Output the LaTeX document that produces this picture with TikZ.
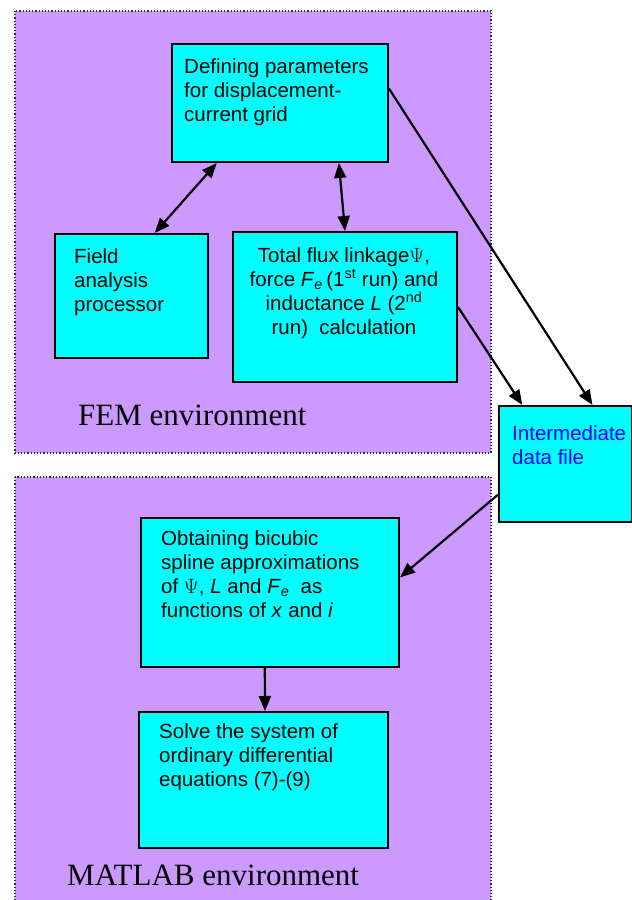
\documentclass[tikz,border=0pt]{standalone}
\usepackage{fontspec}
\setmainfont{Liberation Sans}
\newfontfamily\envfont{Liberation Serif}
\usetikzlibrary{arrows.meta,calc,positioning}
\definecolor{envcolor}{RGB}{204,153,255}
\definecolor{boxcolor}{RGB}{0,255,255}
\definecolor{filecolor}{RGB}{0,0,255}

\begin{document}
\begin{tikzpicture}[%
    x=1pt, y=-1pt,                        % pixel-like units, top-down
    >={Triangle[length=15pt,width=12pt]}, % filled arrow heads
    every node/.style={inner sep=0pt},
    ]
\tikzset{
  env/.style={draw=black!80, dotted, line width=1.2pt, fill=envcolor},
  box/.style={draw, line width=2pt, fill=boxcolor, anchor=north west},
  txt/.style={anchor=north west, align=left, font=\fontsize{20.5}{24}\selectfont},
  envtxt/.style={anchor=base west, font=\envfont\fontsize{31}{36}\selectfont},
  link/.style={line width=2.2pt},
}
\useasboundingbox (0,0) rectangle (632,900);

% environments
\draw[env] (15,11) rectangle (491,453);
\draw[env] (15,477) rectangle (491,910);
\node[envtxt] (femlbl) at (78,425) {FEM environment};
\node[envtxt] (matlbl) at (67,885) {MATLAB environment};

% boxes
\node[box, minimum width=216pt, minimum height=118pt] (def) at (171,43) {};
\node[box, minimum width=153pt, minimum height=124pt] (field) at (54,233) {};
\node[box, minimum width=224pt, minimum height=150pt] (flux) at (232,231) {};
\node[box, minimum width=133pt, minimum height=116pt] (inter) at (498,405) {};
\node[box, minimum width=258pt, minimum height=149pt] (obt) at (140,517) {};
\node[box, minimum width=249pt, minimum height=136pt] (solve) at (138,711) {};

% texts
\node[txt] (deftxt) at (184,58) {Defining parameters\\for displacement-\\current grid};
\node[txt] (fieldtxt) at (74,248) {Field\\analysis\\processor};
\node[txt, anchor=north, align=center] (fluxtxt) at (344,247)
  {Total flux linkage$\Psi$,\\force \textit{F}\textsubscript{\textit{e}}\,(1\textsuperscript{st} run) and\\inductance \textit{L} (2\textsuperscript{nd}\\run)\ \ calculation};
\node[txt, text=filecolor] (intertxt) at (512,425) {Intermediate\\data file};
\node[txt] (obttxt) at (161,530)
  {Obtaining bicubic\\spline approximations\\of $\Psi$, \textit{L} and \textit{F}\textsubscript{\textit{e}}\ \ as\\functions of \textit{x} and \textit{i}};
\node[txt] (solvetxt) at (159,723) {Solve the system of\\ordinary differential\\equations (7)-(9)};

%connect
\draw[link,<->] ($(def.south west)!.21!(def.south east)$) -- ($(field.north west)!.65!(field.north east)$);
\draw[link,<->] ($(def.south west)!.77!(def.south east)$) -- (flux.north);
\draw[link,->] ($(def.north east)!.38!(def.south east)$) -- ($(inter.north west)!.7!(inter.north east)$);
\draw[link,->] (flux.east) -- ($(inter.north west)!.18!(inter.north east)$);
\draw[link,->] ($(inter.north west)!.76!(inter.south west)$) -- ($(obt.north east)!.40!(obt.south east)$);
\draw[link,->] ($(obt.south west)!.48!(obt.south east)$) -- ($(solve.north west)!.506!(solve.north east)$);

\end{tikzpicture}
\end{document}
